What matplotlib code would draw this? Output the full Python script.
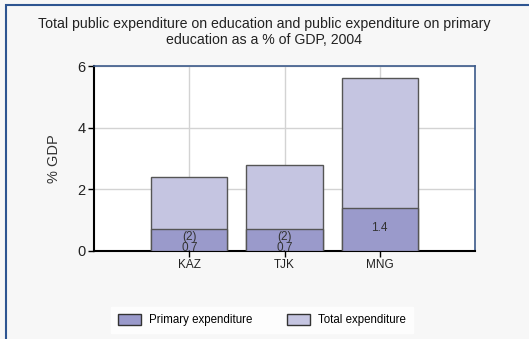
import matplotlib
matplotlib.use("Agg")
import matplotlib.pyplot as plt
from matplotlib.patches import Rectangle, Patch

# data
countries = ["KAZ", "TJK", "MNG"]
primary = [0.7, 0.7, 1.4]
total = [2.4, 2.8, 5.6]
bar_labels = ["(2)\n0.7", "(2)\n0.7", "1.4"]
yticks = [0, 2, 4, 6]

plt.rcParams['font.family'] = ['Liberation Sans', 'DejaVu Sans']

c_prim = "#9A9ACB"
c_tot = "#C5C5E1"
edge = "#555555"

fig = plt.figure(figsize=(5.29, 3.39), dpi=100)
fig.patch.set_facecolor("#F7F7F7")

# outer frame
fig.patches.append(Rectangle((6 / 529, -0.1), 1.2, 1 - 5 / 339 + 0.1,
                             transform=fig.transFigure, fill=False,
                             edgecolor="#2E5591", linewidth=1.5))

ax = fig.add_axes([94 / 529, 1 - 251 / 339, 381 / 529, 185 / 339])
ax.set_facecolor("white")

x = range(1, len(countries) + 1)
ax.bar(x, total, width=0.8, color=c_tot, edgecolor=edge, linewidth=1.0, zorder=3)
ax.bar(x, primary, width=0.8, color=c_prim, edgecolor=edge, linewidth=1.0, zorder=4)

for xi, p, lab in zip(x, primary, bar_labels):
    yy = p / 2 - 0.08 if "\n" in lab else p / 2 + 0.05
    ax.text(xi, yy, lab, ha="center", va="center", fontsize=8.5,
            color="#333333", linespacing=0.85, zorder=5)

ax.set_xlim(0, 4)
ax.set_ylim(0, 6)
ax.set_xticks(list(x))
ax.set_xticklabels(countries, fontsize=8.5, color="#222222")
ax.set_yticks(yticks)
ax.set_yticklabels([str(v) for v in yticks], fontsize=10.5, color="#222222")
ax.grid(True, color="#D3D3D3", linewidth=1.0, zorder=0)
ax.tick_params(axis="both", direction="out", length=4, width=1, color="black", pad=2)
ax.set_ylabel("% GDP", fontsize=10.5, color="#333333", labelpad=12)

for s in ["top", "right"]:
    ax.spines[s].set_color("#3C5A8A")
    ax.spines[s].set_linewidth(1.2)
for s in ["left", "bottom"]:
    ax.spines[s].set_color("black")
    ax.spines[s].set_linewidth(1.5)

fig.text(0.5, 1 - 32 / 339, "Total public expenditure on education and public expenditure on primary\neducation as a % of GDP, 2004",
         ha="center", va="center", fontsize=10.2, color="#222222", linespacing=1.15)

handles = [Patch(facecolor=c_prim, edgecolor="#333333", label="Primary expenditure"),
           Patch(facecolor=c_tot, edgecolor="#333333", label="Total expenditure")]
leg = fig.legend(handles=handles, loc="center", bbox_to_anchor=(262 / 529, 1 - 320 / 339),
                 ncol=2, fontsize=8.3, frameon=True, facecolor="white", edgecolor="white",
                 handlelength=2.0, handleheight=1.1, columnspacing=3.0, borderpad=0.6,
                 handletextpad=0.7, fancybox=False)

fig.savefig("out.png", dpi=100, facecolor=fig.get_facecolor())
